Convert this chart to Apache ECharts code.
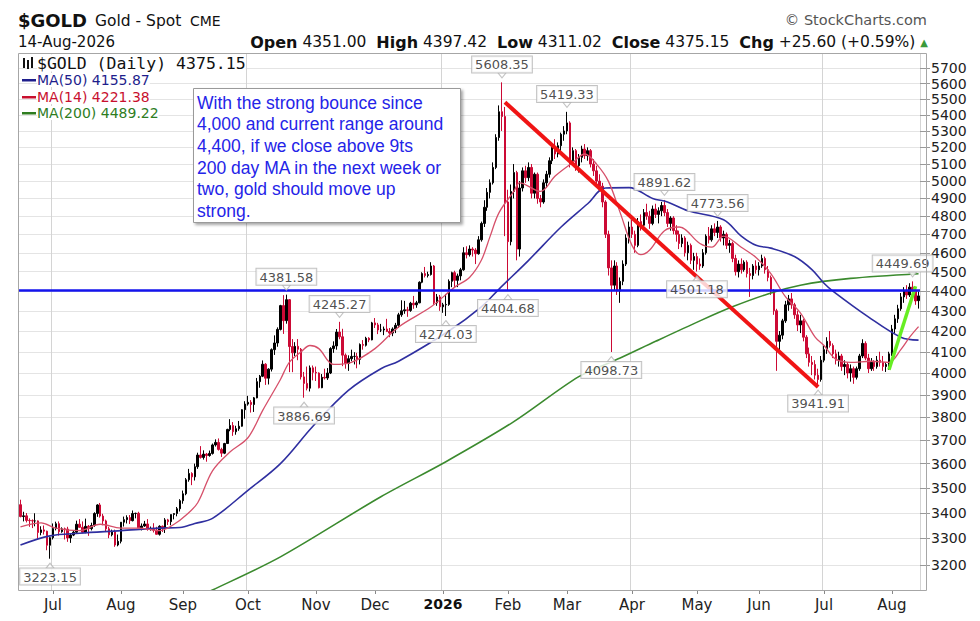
<!DOCTYPE html>
<html><head><meta charset="utf-8">
<script src="https://cdn.jsdelivr.net/npm/echarts@6/dist/echarts.min.js"></script>
<style>html,body{margin:0;padding:0;background:#fff}#c{width:980px;height:621px}</style>
</head><body><div id="c"></div>
<script>
// Daily OHLC rows per month: [day, open, high, low, close]
const jun2025 = [[16,3432,3452,3382,3385],[17,3385,3404,3366,3388],[18,3388,3399,3362,3370],[19,3370,3378,3345,3369],[20,3369,3374,3340,3368],[23,3368,3398,3347,3368],[24,3368,3370,3295,3323],[25,3323,3347,3312,3333],[26,3333,3350,3315,3328],[27,3328,3330,3255,3274],[30,3274,3305,3223.15,3303]];
const jul2025 = [[1,3303,3358,3296,3338],[2,3338,3365,3331,3357],[3,3357,3366,3311,3326],[4,3326,3343,3322,3337],[7,3337,3342,3296,3336],[8,3336,3345,3287,3302],[9,3302,3317,3283,3313],[10,3313,3330,3309,3324],[11,3324,3369,3321,3355],[14,3355,3375,3341,3343],[15,3343,3366,3320,3324],[16,3324,3377,3320,3347],[17,3347,3352,3310,3338],[18,3338,3361,3331,3350],[21,3350,3402,3345,3397],[22,3397,3434,3384,3431],[23,3431,3439,3381,3387],[24,3387,3396,3351,3368],[25,3368,3373,3325,3337],[28,3337,3345,3301,3314],[29,3314,3334,3308,3326],[30,3326,3334,3268,3275],[31,3275,3315,3270,3289]];
const aug2025 = [[1,3289,3363,3281,3363],[4,3363,3385,3346,3373],[5,3373,3390,3358,3381],[6,3381,3391,3356,3369],[7,3369,3409,3366,3397],[8,3397,3400,3378,3398],[11,3398,3404,3341,3341],[12,3341,3358,3331,3348],[13,3348,3368,3345,3356],[14,3356,3375,3330,3336],[15,3336,3346,3330,3336],[18,3336,3359,3323,3332],[19,3332,3345,3315,3316],[20,3316,3351,3311,3347],[21,3347,3350,3325,3339],[22,3339,3379,3321,3372],[25,3372,3376,3352,3365],[26,3365,3393,3351,3393],[27,3393,3398,3374,3397],[28,3397,3423,3386,3416],[29,3416,3454,3405,3448]];
const sep2025 = [[1,3448,3489,3436,3476],[2,3476,3540,3470,3533],[3,3533,3578,3525,3559],[4,3559,3564,3511,3545],[5,3545,3600,3530,3587],[8,3587,3646,3578,3636],[9,3636,3674,3621,3626],[10,3626,3656,3617,3640],[11,3640,3645,3608,3634],[12,3634,3655,3629,3643],[15,3643,3685,3638,3679],[16,3679,3703,3672,3690],[17,3690,3707,3655,3660],[18,3660,3667,3628,3644],[19,3644,3688,3640,3685],[22,3685,3749,3683,3746],[23,3746,3791,3738,3763],[24,3763,3778,3718,3736],[25,3736,3762,3723,3749],[26,3749,3783,3740,3760],[29,3760,3835,3758,3833],[30,3833,3871,3793,3858]];
const oct2025 = [[1,3858,3895,3851,3866],[2,3866,3876,3820,3856],[3,3856,3890,3823,3886],[6,3886,3977,3884,3960],[7,3960,3991,3932,3985],[8,3985,4059,3981,4041],[9,4041,4046,3945,3976],[10,3976,4022,3947,4018],[13,4018,4116,4007,4110],[14,4110,4179,4085,4142],[15,4142,4218,4124,4208],[16,4208,4330,4203,4326],[17,4326,4379,4186,4251],[20,4251,4381.58,4236,4356],[21,4356,4359,4004,4125],[22,4125,4161,4004,4095],[23,4095,4146,4080,4126],[24,4126,4161,4060,4112],[27,4112,4118,3970,3982],[28,3982,4005,3886.69,3952],[29,3952,4030,3920,3930],[30,3930,4035,3915,4024],[31,4024,4035,3966,4003]];
const nov2025 = [[3,4003,4030,3963,4000],[4,4000,4003,3929,3932],[5,3932,3995,3930,3980],[6,3980,4020,3970,3977],[7,3977,4023,3968,4000],[10,4000,4122,3995,4115],[11,4115,4150,4095,4128],[12,4128,4210,4110,4195],[13,4195,4245.27,4160,4172],[14,4172,4211,4032,4084],[17,4084,4092,4020,4045],[18,4045,4083,4010,4067],[19,4067,4110,4055,4078],[20,4078,4098,4040,4078],[21,4078,4095,4022,4064],[24,4064,4140,4040,4135],[25,4135,4156,4110,4131],[26,4131,4172,4125,4165],[27,4165,4170,4146,4157],[28,4157,4245,4155,4240]];
const dec2025 = [[1,4240,4264,4215,4230],[2,4230,4240,4185,4205],[3,4205,4235,4195,4205],[4,4205,4222,4180,4210],[5,4210,4260,4195,4198],[8,4198,4215,4170,4190],[9,4190,4218,4175,4210],[10,4210,4240,4190,4228],[11,4228,4290,4215,4280],[12,4280,4353,4270,4300],[15,4300,4350,4285,4305],[16,4305,4320,4270,4302],[17,4302,4345,4295,4338],[18,4338,4375,4310,4330],[19,4330,4350,4315,4340],[22,4340,4450,4338,4445],[23,4445,4497,4440,4490],[24,4490,4525,4470,4480],[25,4480,4500,4470,4485],[26,4485,4550,4480,4530],[29,4530,4535,4330,4340],[30,4340,4385,4325,4370],[31,4370,4380,4300,4320]];
const jan2026 = [[1,4320,4340,4290,4330],[2,4330,4385,4274.03,4332],[5,4332,4460,4325,4450],[6,4450,4500,4420,4495],[7,4495,4505,4420,4455],[8,4455,4490,4420,4478],[9,4478,4520,4455,4510],[12,4510,4630,4505,4600],[13,4600,4635,4570,4590],[14,4590,4640,4580,4620],[15,4620,4630,4580,4615],[16,4615,4625,4540,4595],[19,4595,4690,4590,4670],[20,4670,4770,4660,4760],[21,4760,4890,4740,4850],[22,4850,4960,4830,4935],[23,4935,5010,4900,4990],[26,4990,5110,4980,5080],[27,5080,5280,5070,5260],[28,5260,5460,5240,5420],[29,5420,5608.35,5300,5390],[30,5390,5450,4690,4880]];
const feb2026 = [[2,4880,4950,4404.68,4660],[3,4660,4980,4640,4940],[4,4940,5100,4900,5050],[5,5050,5060,4560,4620],[6,4620,5000,4580,4960],[9,4960,5080,4940,5060],[10,5060,5090,4990,5020],[11,5020,5110,5000,5080],[12,5080,5100,4900,4930],[13,4930,5050,4900,5040],[16,5040,5050,4870,4900],[17,4900,4920,4850,4880],[18,4880,5010,4870,4990],[19,4990,5060,4960,5040],[20,5040,5140,5020,5120],[23,5120,5220,5100,5200],[24,5200,5250,5130,5160],[25,5160,5230,5140,5210],[26,5210,5290,5170,5280],[27,5280,5330,5240,5300]];
const mar2026 = [[2,5300,5419.33,5280,5350],[3,5350,5360,5080,5120],[4,5120,5200,5090,5180],[5,5180,5190,5060,5090],[6,5090,5160,5050,5140],[9,5140,5210,5110,5190],[10,5190,5220,5130,5150],[11,5150,5200,5120,5180],[12,5180,5190,5080,5100],[13,5100,5130,5030,5060],[16,5060,5090,4980,5000],[17,5000,5040,4940,4970],[18,4970,4990,4850,4880],[19,4880,4890,4680,4700],[20,4700,4720,4480,4520],[23,4520,4560,4098.73,4430],[24,4430,4560,4400,4530],[25,4530,4550,4380,4400],[26,4400,4470,4340,4450],[27,4450,4560,4430,4540],[30,4540,4700,4530,4680],[31,4680,4770,4650,4740]];
const apr2026 = [[1,4740,4780,4680,4700],[2,4700,4720,4600,4640],[3,4640,4790,4630,4770],[6,4770,4810,4720,4750],[7,4750,4840,4740,4820],[8,4820,4870,4780,4800],[9,4800,4830,4730,4760],[10,4760,4860,4750,4840],[13,4840,4870,4790,4810],[14,4810,4850,4760,4830],[15,4830,4880,4800,4860],[16,4860,4891.62,4800,4820],[17,4820,4840,4740,4760],[20,4760,4800,4720,4790],[21,4790,4800,4700,4720],[22,4720,4750,4660,4700],[23,4700,4720,4620,4650],[24,4650,4700,4630,4680],[27,4680,4690,4580,4600],[28,4600,4660,4560,4640],[29,4640,4650,4540,4560],[30,4560,4600,4510,4580]];
const may2026 = [[1,4580,4600,4501.18,4540],[4,4540,4570,4510,4530],[5,4530,4620,4520,4600],[6,4600,4700,4590,4690],[7,4690,4740,4650,4670],[8,4670,4750,4660,4730],[11,4730,4760,4690,4710],[12,4710,4773.56,4680,4740],[13,4740,4750,4660,4680],[14,4680,4720,4640,4700],[15,4700,4710,4620,4640],[18,4640,4670,4600,4650],[19,4650,4660,4550,4570],[20,4570,4590,4480,4500],[21,4500,4560,4470,4540],[22,4540,4570,4490,4510],[25,4510,4560,4500,4550],[26,4550,4560,4470,4490],[27,4490,4520,4370,4480],[28,4480,4540,4460,4530],[29,4530,4560,4490,4510]];
const jun2026 = [[1,4510,4550,4480,4530],[2,4530,4590,4520,4570],[3,4570,4580,4490,4510],[4,4510,4530,4450,4470],[5,4470,4480,4380,4400],[8,4400,4410,4280,4300],[9,4300,4310,4010,4150],[10,4150,4200,4090,4180],[11,4180,4260,4160,4250],[12,4250,4350,4240,4330],[15,4330,4380,4300,4360],[16,4360,4390,4310,4330],[17,4330,4340,4260,4280],[18,4280,4300,4200,4230],[19,4230,4280,4190,4250],[22,4250,4260,4150,4170],[23,4170,4180,4070,4090],[24,4090,4120,4030,4050],[25,4050,4080,3990,4040],[26,4040,4060,3970,3990],[29,3990,4020,3941.91,3970],[30,3970,4080,3960,4060]];
const jul2026 = [[1,4060,4130,4050,4110],[2,4110,4170,4090,4150],[3,4150,4200,4120,4130],[6,4130,4140,4070,4090],[7,4090,4110,4040,4060],[8,4060,4100,4030,4080],[9,4080,4090,4010,4030],[10,4030,4060,3990,4040],[13,4040,4050,3975,4000],[14,4000,4040,3960,4020],[15,4020,4030,3950,3980],[16,3980,4030,3970,4020],[17,4020,4090,4010,4080],[20,4080,4160,4070,4140],[21,4140,4150,4060,4070],[22,4070,4090,4000,4020],[23,4020,4070,4010,4050],[24,4050,4060,4010,4030],[27,4030,4080,4020,4060],[28,4060,4100,4030,4050],[29,4050,4080,4010,4030],[30,4030,4050,4005,4040],[31,4040,4100,4015,4090]];
const aug2026 = [[3,4090,4230,4080,4210],[4,4210,4280,4190,4260],[5,4260,4330,4240,4310],[6,4310,4390,4300,4370],[7,4370,4420,4340,4400],[10,4400,4430,4360,4380],[11,4380,4440,4370,4420],[12,4420,4449.69,4380,4400],[13,4400,4420,4330,4349.55],[14,4351.00,4397.42,4311.02,4375.15]];

// Moving averages: [trading-day index, value]
const ma50Pts = [[0,3275],[10,3310],[20,3320],[34,3330],[47,3340],[54,3342],[59,3358],[65,3378],[77,3490],[88,3600],[99,3760],[111,3920],[122,4020],[128,4055],[145,4200],[156,4320],[162,4410],[172,4560],[183,4740],[192,4870],[198,4960],[206,4962],[214,4900],[219,4880],[226,4830],[238,4780],[244,4690],[249,4640],[254,4625],[262,4580],[268,4510],[272,4440],[275,4400],[287,4270],[298,4170],[304,4155.87]];
const ma14Pts = [[0,3345],[7,3360],[12,3340],[20,3330],[27,3355],[34,3340],[40,3340],[47,3330],[52,3355],[56,3390],[60,3440],[65,3570],[71,3650],[77,3710],[82,3830],[88,3970],[91,4050],[95,4100],[98,4130],[101,4115],[106,4040],[112,4050],[120,4115],[128,4220],[139,4320],[147,4420],[152,4470],[156,4560],[159,4690],[162,4820],[167,4940],[169,4990],[176,4940],[181,5030],[187,5110],[191,5160],[195,5100],[199,5000],[203,4820],[207,4640],[210,4590],[213,4615],[218,4720],[223,4740],[230,4650],[234,4630],[238,4690],[244,4630],[249,4575],[254,4490],[259,4370],[264,4290],[269,4170],[272,4130],[276,4065],[281,4050],[288,4055],[294,4050],[298,4110],[301,4170],[304,4221.38]];
const ma200Pts = [[60,3085],[65,3108],[88,3230],[122,3464],[144,3608],[167,3780],[189,3983],[203,4070],[215,4150],[230,4250],[241,4320],[253,4385],[264,4430],[281,4465],[304,4489.22]];

// Annotated highs and lows (dates of the marked bars)
const highDates = ['2025-10-20','2025-11-13','2026-01-29','2026-03-02','2026-04-16','2026-05-12','2026-08-12'];
const lowDates = ['2025-06-30','2025-10-28','2026-01-02','2026-02-02','2026-03-23','2026-05-01','2026-06-29'];

// Drawn lines
const supportLevel = 4400;
const redTrend = [['2026-01-30',5480],['2026-06-29',3935]];
const greenTrend = [['2026-07-31',4015],['2026-08-13',4425]];

// Price axis
const yTicks = [3200,3300,3400,3500,3600,3700,3800,3900,4000,4100,4200,4300,4400,4500,4600,4700,4800,4900,5000,5100,5200,5300,5400,5500,5600,5700];
const yRange = [3108,5803];
const monthNames = ['Jan','Feb','Mar','Apr','May','Jun','Jul','Aug','Sep','Oct','Nov','Dec'];

const noteLines = ['With the strong bounce since','4,000 and current range around','4,400, if we close above 9ts','200 day MA in the next week or','two, gold should move up','strong.'];

// ---------- build ----------
const monthData = [['2025-06',jun2025],['2025-07',jul2025],['2025-08',aug2025],['2025-09',sep2025],['2025-10',oct2025],['2025-11',nov2025],['2025-12',dec2025],['2026-01',jan2026],['2026-02',feb2026],['2026-03',mar2026],['2026-04',apr2026],['2026-05',may2026],['2026-06',jun2026],['2026-07',jul2026],['2026-08',aug2026]];
const dates = [], rows = [];
monthData.forEach(([ym, arr]) => arr.forEach(r => { dates.push(ym + '-' + String(r[0]).padStart(2,'0')); rows.push(r); }));
const L = Math.log;
const candle = rows.map(r => [L(r[1]), L(r[4]), L(r[3]), L(r[2])]);
const idxOf = d => dates.indexOf(d);
const isMonthStart = i => i > 0 && dates[i].slice(0,7) !== dates[i-1].slice(0,7);
const isQuarterStart = i => isMonthStart(i) && ['01','04','07','10'].indexOf(dates[i].slice(5,7)) >= 0;
const toLine = pts => pts.map(p => [p[0], L(p[1])]);
const trendLine = t => t.map(p => [idxOf(p[0]), L(p[1])]);
const lastIdx = rows.length - 1;
const peakData = highDates.map(d => { const i = idxOf(d); const v = rows[i][2];
  const item = {value:[i, L(v)], name: v.toFixed(2)};
  if (i > lastIdx - 5) item.label = {offset:[-10, 0]};   // keep the last box clear of the price scale
  return item; });
const troughData = lowDates.map(d => { const i = idxOf(d); const v = rows[i][3]; return {value:[i, L(v)], name: v.toFixed(2)}; });

const last = rows[lastIdx], prev = rows[lastIdx-1];
const chg = last[4] - prev[4];
const pct = chg / prev[4] * 100;
const lastMA = pts => pts[pts.length-1][1].toFixed(2);

const FONT = 'DejaVu Sans';
const lblStyle = {show:true, formatter:'{b}', backgroundColor:'#fff', borderColor:'#b4b4b4', borderWidth:1, padding:[2,3,1,3], fontFamily:FONT, fontSize:13, color:'#222', distance:0};
const notchStyle = {color:'#fff', borderColor:'#b4b4b4', borderWidth:1};

const chart = echarts.init(document.getElementById('c'), null, {renderer:'svg'});
chart.setOption({
  animation:false,
  backgroundColor:'#fff',
  grid:{left:19, right:60, top:53, bottom:31},
  xAxis:{
    type:'category', data:dates, boundaryGap:true,
    axisLine:{show:false},
    axisTick:{show:true, alignWithLabel:true, length:4, interval:(i)=>isMonthStart(i), lineStyle:{color:'#888'}},
    axisLabel:{interval:(i)=>isMonthStart(i), margin:7, fontFamily:FONT, fontSize:15, color:'#222',
      formatter:(v)=>{ const m = +v.slice(5,7); return m === 1 ? '{y|' + v.slice(0,4) + '}' : monthNames[m-1]; },
      rich:{y:{fontFamily:FONT, fontSize:14, fontWeight:'bold', color:'#111'}}},
    splitLine:{show:true, interval:(i)=>isQuarterStart(i), lineStyle:{color:'#d4d4d4', width:1}}
  },
  yAxis:{
    type:'value', position:'right', min:L(yRange[0]), max:L(yRange[1]), scale:true,
    axisLine:{show:false},
    axisTick:{show:true, customValues:yTicks.map(L), length:10, lineStyle:{color:'#999'}},
    axisLabel:{customValues:yTicks.map(L), formatter:(v)=>String(Math.round(Math.exp(v))), margin:11, fontFamily:FONT, fontSize:14, lineHeight:13, color:'#222'},
    splitLine:{show:true, lineStyle:{color:'#e4e4e4', width:1}}
  },
  series:[
    {type:'candlestick', data:candle, barWidth:2,
      itemStyle:{color:'#000', color0:'#cc0a35', borderColor:'#000', borderColor0:'#cc0a35', borderWidth:1}},
    {type:'line', data:toLine(ma200Pts), smooth:0.3, showSymbol:false, lineStyle:{color:'#3b8a2e', width:1.6}},
    {type:'line', data:toLine(ma50Pts), smooth:0.35, showSymbol:false, lineStyle:{color:'#2f2fa0', width:1.6}},
    {type:'line', data:toLine(ma14Pts), smooth:0.35, showSymbol:false, lineStyle:{color:'#d6506a', width:1.3}},
    {type:'line', data:trendLine(redTrend), showSymbol:false, lineStyle:{color:'#f01414', width:4},
      markLine:{silent:true, symbol:['none','none'], label:{show:false},
        lineStyle:{color:'#1414ee', width:2.5, type:'solid'}, data:[{yAxis:L(supportLevel)}]}},
    {type:'line', data:trendLine(greenTrend), showSymbol:false, lineStyle:{color:'#66ee22', width:3.5}},
    {type:'scatter', data:peakData, symbol:'path://M0,0 L10,0 L5,6 Z', symbolSize:[8,5], symbolOffset:[0,-7], itemStyle:notchStyle, label:Object.assign({position:'top'}, lblStyle), z:20},
    {type:'scatter', data:troughData, symbol:'triangle', symbolSize:[8,5], symbolOffset:[0,7], itemStyle:notchStyle, label:Object.assign({position:'bottom'}, lblStyle), z:20}
  ],
  graphic:[
    {type:'rect', silent:true, z:100, shape:{x:18.5, y:53.5, width:908, height:537}, style:{fill:'none', stroke:'#a6a6a6', lineWidth:1}},
    {type:'text', z:100, style:{x:18, y:20, text:'$GOLD', fontFamily:FONT, fontSize:18, fontWeight:'bold', fill:'#111', textVerticalAlign:'middle', verticalAlign:'middle'}},
    {type:'text', z:100, style:{x:95, y:21, text:'Gold - Spot', fontFamily:FONT, fontSize:15.5, fill:'#111', textVerticalAlign:'middle', verticalAlign:'middle'}},
    {type:'text', z:100, style:{x:190, y:21, text:'CME', fontFamily:FONT, fontSize:14, fill:'#111', textVerticalAlign:'middle', verticalAlign:'middle'}},
    {type:'text', z:100, style:{x:18, y:42, text:'14-Aug-2026', fontFamily:FONT, fontSize:15, fill:'#111', textVerticalAlign:'middle', verticalAlign:'middle'}},
    {type:'text', z:100, style:{x:927, y:20, text:'\u00A9 StockCharts.com', fontFamily:FONT, fontSize:14.5, fill:'#555', textAlign:'right', align:'right', textVerticalAlign:'middle', verticalAlign:'middle'}},
    {type:'text', z:100, style:{x:928, y:42,
      text:'{b|Open} ' + last[1].toFixed(2) + '  {b|High} ' + last[2].toFixed(2) + '  {b|Low} ' + last[3].toFixed(2) + '  {b|Close} ' + last[4].toFixed(2) + '  {b|Chg} +' + chg.toFixed(2) + ' (+' + pct.toFixed(2) + '%) {g|\u25B2}',
      fontFamily:FONT, fontSize:15.5, fill:'#111', textAlign:'right', align:'right', textVerticalAlign:'middle', verticalAlign:'middle',
      rich:{b:{fontFamily:FONT, fontSize:16, fontWeight:'bold', fill:'#111', color:'#111'}, g:{fontFamily:FONT, fontSize:10, fill:'#3a9a3a', color:'#3a9a3a'}}}},
    // legend
    {type:'rect', z:100, shape:{x:23, y:58, width:2, height:10}, style:{fill:'#111'}},
    {type:'rect', z:100, shape:{x:27, y:60, width:2, height:9}, style:{fill:'#111'}},
    {type:'rect', z:100, shape:{x:31, y:57, width:2, height:11}, style:{fill:'#111'}},
    {type:'text', z:100, style:{x:37, y:63, text:'$GOLD (Daily) ' + last[4].toFixed(2), fontFamily:'DejaVu Sans Mono', fontSize:16.5, fill:'#111', backgroundColor:'#fff', textVerticalAlign:'middle', verticalAlign:'middle'}},
    {type:'rect', z:100, shape:{x:22, y:79, width:14, height:2.5}, style:{fill:'#1e1e8c'}},
    {type:'text', z:100, style:{x:37, y:80, text:'MA(50) ' + lastMA(ma50Pts), fontFamily:FONT, fontSize:14, fill:'#1e1e8c', backgroundColor:'#fff', textVerticalAlign:'middle', verticalAlign:'middle'}},
    {type:'rect', z:100, shape:{x:22, y:96, width:14, height:2.5}, style:{fill:'#c8102e'}},
    {type:'text', z:100, style:{x:37, y:97, text:'MA(14) ' + lastMA(ma14Pts), fontFamily:FONT, fontSize:14, fill:'#c8102e', backgroundColor:'#fff', textVerticalAlign:'middle', verticalAlign:'middle'}},
    {type:'rect', z:100, shape:{x:22, y:112, width:14, height:2.5}, style:{fill:'#2e7d1f'}},
    {type:'text', z:100, style:{x:37, y:113, text:'MA(200) ' + lastMA(ma200Pts), fontFamily:FONT, fontSize:14, fill:'#2e7d1f', backgroundColor:'#fff', textVerticalAlign:'middle', verticalAlign:'middle'}},
    // note box
    {type:'rect', z:110, shape:{x:193.5, y:88.5, width:267, height:134}, style:{fill:'#fff', stroke:'#9a9a9a', lineWidth:1, shadowBlur:3, shadowOffsetX:2, shadowOffsetY:2, shadowColor:'rgba(0,0,0,0.35)'}},
    {type:'text', z:111, style:{x:197, y:92, text:noteLines.join('\n'), fontFamily:'Liberation Sans', fontSize:17.5, lineHeight:21.6, fill:'#2424e8', textVerticalAlign:'top', verticalAlign:'top'}}
  ]
});
</script>
</body></html>
